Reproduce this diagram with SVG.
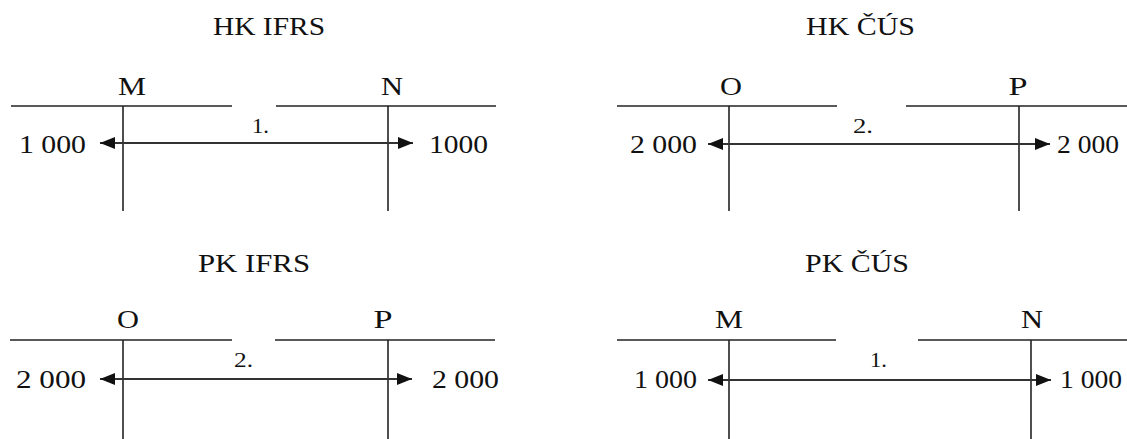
<svg xmlns="http://www.w3.org/2000/svg" width="1127" height="439" viewBox="0 0 1127 439">
<style>
text{font-family:"Liberation Serif","Times New Roman",serif;fill:#111}
.t{font-size:25px;text-anchor:start}
.h{font-size:26px;text-anchor:middle}
.n{font-size:26px}
.s{font-size:20px}
.ln{stroke:#222;stroke-width:1.6;fill:none}
.ar{stroke:#333;stroke-width:2;fill:none;marker-start:url(#ah);marker-end:url(#ah)}
</style>
<defs>
<marker id="ah" viewBox="0 0 15 12" refX="15" refY="6" markerWidth="15" markerHeight="12" markerUnits="userSpaceOnUse" orient="auto-start-reverse">
<path d="M0,0 L15,6 L0,12 z" fill="#111"/>
</marker>
</defs>
<rect width="1127" height="439" fill="#fff"/>

<g id="hk-ifrs">
<text class="t" x="213" y="35" textLength="112" lengthAdjust="spacingAndGlyphs">HK IFRS</text>
<g id="tl-M">
<line class="ln" x1="11" y1="106" x2="232" y2="106"/>
<line class="ln" x1="123" y1="106" x2="123" y2="211"/>
<text class="h" x="132" y="95" textLength="28" lengthAdjust="spacingAndGlyphs">M</text>
<text class="n" x="19" y="153" textLength="67" lengthAdjust="spacingAndGlyphs">1 000</text>
</g>
<g id="tl-N">
<line class="ln" x1="276" y1="106" x2="496" y2="106"/>
<line class="ln" x1="388" y1="106" x2="388" y2="211"/>
<text class="h" x="392" y="95" textLength="22" lengthAdjust="spacingAndGlyphs">N</text>
<text class="n" x="429" y="153" textLength="59" lengthAdjust="spacingAndGlyphs">1000</text>
</g>
<text class="s" x="252" y="133" textLength="17" lengthAdjust="spacingAndGlyphs">1.</text>
</g>

<g id="hk-cus">
<text class="t" x="806" y="35" textLength="109" lengthAdjust="spacingAndGlyphs">HK ČÚS</text>
<g id="tr-O">
<line class="ln" x1="617" y1="106" x2="837" y2="106"/>
<line class="ln" x1="729" y1="106" x2="729" y2="211"/>
<text class="h" x="731" y="95" textLength="22" lengthAdjust="spacingAndGlyphs">O</text>
<text class="n" x="630" y="153" textLength="67" lengthAdjust="spacingAndGlyphs">2 000</text>
</g>
<g id="tr-P">
<line class="ln" x1="906" y1="106" x2="1127" y2="106"/>
<line class="ln" x1="1019" y1="106" x2="1019" y2="211"/>
<text class="h" x="1018" y="95" textLength="19" lengthAdjust="spacingAndGlyphs">P</text>
<text class="n" x="1057" y="153" textLength="62" lengthAdjust="spacingAndGlyphs">2 000</text>
</g>
<text class="s" x="853" y="133" textLength="20" lengthAdjust="spacingAndGlyphs">2.</text>
</g>

<g id="pk-ifrs">
<text class="t" x="198" y="272" textLength="112" lengthAdjust="spacingAndGlyphs">PK IFRS</text>
<g id="bl-O">
<line class="ln" x1="10" y1="340" x2="232" y2="340"/>
<line class="ln" x1="123" y1="340" x2="123" y2="439"/>
<text class="h" x="128" y="328" textLength="22" lengthAdjust="spacingAndGlyphs">O</text>
<text class="n" x="16" y="388" textLength="70" lengthAdjust="spacingAndGlyphs">2 000</text>
</g>
<g id="bl-P">
<line class="ln" x1="275" y1="340" x2="495" y2="340"/>
<line class="ln" x1="388" y1="340" x2="388" y2="439"/>
<text class="h" x="383" y="328" textLength="19" lengthAdjust="spacingAndGlyphs">P</text>
<text class="n" x="432" y="388" textLength="67" lengthAdjust="spacingAndGlyphs">2 000</text>
</g>
<text class="s" x="234" y="367" textLength="19" lengthAdjust="spacingAndGlyphs">2.</text>
</g>

<g id="pk-cus">
<text class="t" x="805" y="272" textLength="104" lengthAdjust="spacingAndGlyphs">PK ČÚS</text>
<g id="br-M">
<line class="ln" x1="617" y1="340" x2="836" y2="340"/>
<line class="ln" x1="729" y1="340" x2="729" y2="439"/>
<text class="h" x="729" y="328" textLength="28" lengthAdjust="spacingAndGlyphs">M</text>
<text class="n" x="634" y="388" textLength="63" lengthAdjust="spacingAndGlyphs">1 000</text>
</g>
<g id="br-N">
<line class="ln" x1="918" y1="340" x2="1127" y2="340"/>
<line class="ln" x1="1031" y1="340" x2="1031" y2="439"/>
<text class="h" x="1032" y="328" textLength="22" lengthAdjust="spacingAndGlyphs">N</text>
<text class="n" x="1060" y="388" textLength="62" lengthAdjust="spacingAndGlyphs">1 000</text>
</g>
<text class="s" x="870" y="367" textLength="17" lengthAdjust="spacingAndGlyphs">1.</text>
</g>

<g id="connectors">
<line class="ar" x1="100" y1="143" x2="413" y2="143"/>
<line class="ar" x1="708" y1="144" x2="1050" y2="144"/>
<line class="ar" x1="100" y1="379" x2="412" y2="379"/>
<line class="ar" x1="708" y1="380" x2="1051" y2="380"/>
</g>
</svg>
